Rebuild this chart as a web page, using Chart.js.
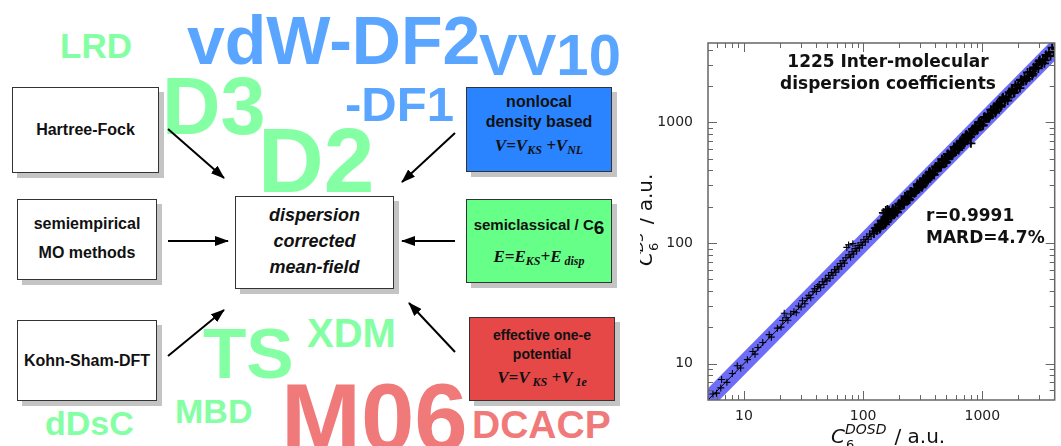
<!DOCTYPE html>
<html>
<head>
<meta charset="utf-8">
<script src="https://cdn.jsdelivr.net/npm/chart.js@4.4.0/dist/chart.umd.min.js"></script>
<style>
html, body { margin: 0; padding: 0; background: #fff; }
body { width: 1061px; height: 446px; position: relative; overflow: hidden; font-family: 'Liberation Sans', Arial, sans-serif; }
.w { position: absolute; font-weight: bold; line-height: 1; white-space: nowrap; }
.g { color: #84ffa3; }
.b { color: #5aa5ff; }
.r { color: #f07a7a; }
.box { position: absolute; box-sizing: border-box; border: 1.5px solid #333; background: #fff; box-shadow: 5px 5px 0 #c4c4c4;
       display: flex; flex-direction: column; justify-content: center; align-items: center; text-align: center;
       font-weight: bold; font-size: 16px; color: #111; }
.box div { white-space: nowrap; }
.f { font-family: 'Liberation Serif', 'Times New Roman', serif; font-style: italic; font-weight: bold; font-size: 17px; white-space: nowrap; }
.f sub { font-size: 12px; position: relative; top: 3px; vertical-align: baseline; }
#chartBox { position: absolute; left: 640px; top: 0; width: 421px; height: 446px; }
</style>
</head>
<body>

<!-- method names in the background -->
<div class="w g" style="left:60px;top:28px;font-size:35px">LRD</div>
<div class="w b" style="left:187px;top:6px;font-size:68px">vdW-DF2</div>
<div class="w b" style="left:479px;top:26px;font-size:58px">VV10</div>
<div class="w g" style="left:162px;top:66px;font-size:81px">D3</div>
<div class="w b" style="left:345px;top:80px;font-size:49px">-DF1</div>
<div class="w g" style="left:258px;top:115px;font-size:91px">D2</div>
<div class="w g" style="left:203px;top:318px;font-size:71px">TS</div>
<div class="w g" style="left:307px;top:313px;font-size:40px">XDM</div>
<div class="w g" style="left:175px;top:394px;font-size:34px">MBD</div>
<div class="w g" style="left:45px;top:406px;font-size:34px">dDsC</div>
<div class="w r" style="left:281px;top:370px;font-size:96px">M06</div>
<div class="w r" style="left:472px;top:405px;font-size:39px">DCACP</div>

<!-- boxes -->
<div class="box" style="left:12px;top:87px;width:147px;height:86px"><div>Hartree-Fock</div></div>
<div class="box" style="left:17px;top:199px;width:140px;height:81px;line-height:29px;padding-bottom:4px"><div>semiempirical</div><div>MO methods</div></div>
<div class="box" style="left:17px;top:320px;width:140px;height:81px"><div>Kohn-Sham-DFT</div></div>
<div class="box" style="left:235px;top:196px;width:159px;height:93px;font-size:18px;font-style:italic;line-height:26px;padding-bottom:3px"><div>dispersion</div><div>corrected</div><div>mean-field</div></div>
<div class="box" style="left:466px;top:87px;width:146px;height:85px;background:#2a84ff;padding-bottom:6px">
  <div style="line-height:20px">nonlocal</div><div style="line-height:20px">density based</div>
  <div class="f" style="line-height:28px">V=V<sub>KS</sub> +V<sub>NL</sub></div>
</div>
<div class="box" style="left:466px;top:199px;width:146px;height:84px;background:#66ff88;font-size:15px">
  <div style="line-height:32px">semiclassical / C<span style="font-size:19px;position:relative;top:4px">6</span></div>
  <div class="f" style="line-height:32px">E=E<sub>KS</sub>+E<sub> disp</sub></div>
</div>
<div class="box" style="left:469px;top:317px;width:146px;height:84px;background:#e64848;font-size:14px">
  <div style="line-height:19px">effective one-e</div><div style="line-height:19px">potential</div>
  <div class="f" style="line-height:28px">V=V<sub> KS</sub> +V<sub> 1e</sub></div>
</div>

<!-- arrows -->
<svg width="1061" height="446" style="position:absolute;left:0;top:0">
  <defs>
    <marker id="ah" markerWidth="14" markerHeight="10" refX="13" refY="5" orient="auto" markerUnits="userSpaceOnUse">
      <path d="M0,0 L14,5 L0,10 z" fill="#000"/>
    </marker>
  </defs>
  <g stroke="#000" stroke-width="2" marker-end="url(#ah)">
    <line x1="168" y1="129" x2="224" y2="178"/>
    <line x1="168" y1="241" x2="228" y2="241"/>
    <line x1="168" y1="356" x2="224" y2="310"/>
    <line x1="455" y1="133" x2="402" y2="182"/>
    <line x1="455" y1="241" x2="402" y2="241"/>
    <line x1="455" y1="352" x2="409" y2="303"/>
  </g>
</svg>

<div id="chartBox"><canvas id="c6Chart" width="421" height="446"></canvas></div>

<script>
// C6 coefficients: reference (DOSD) vs D3
var c6Dosd = [
    5.5, 5.9, 6.4, 6.5, 7.2, 8.0, 8.8, 9.4, 10.7, 11.9, 12.4, 13.1, 14.4, 16.3, 17.0, 19.1, 20.5, 21.2, 21.8, 22.6,
    23.4, 24.7, 26.3, 27.5, 28.8, 30.2, 31.0, 32.5, 33.8, 35.1, 36.4, 38.0, 39.2, 40.5,
    41.6, 42.8, 44.0, 45.5, 46.9, 48.2, 49.7, 51.3, 52.8, 54.2, 55.9, 57.6, 59.0, 60.8, 62.5, 64.3, 66.1, 68.0, 69.8, 71.7,
    73.0, 75.6, 76.2, 78.5, 80.9, 82.1, 83.4, 85.8, 88.2, 90.7, 93.3, 96.0, 98.7, 101.5, 104.4, 107.3, 110.3, 113.4, 116.6,
    119.9, 123.3, 126.8, 130.4,
    134, 138, 142, 146, 150, 154, 158, 163, 168, 173, 178, 183, 188, 194, 200, 206, 212, 218, 225, 232,
    239, 246, 253, 261, 269, 277, 285, 294, 303, 312, 321, 331, 341, 351, 362, 373, 384, 395, 407, 419,
    432, 445, 458, 472, 486, 501, 516, 531, 547, 563, 580, 598, 616, 634, 653, 673, 693, 714, 735, 757,
    780, 803, 827, 852, 878, 904, 931, 959, 988, 1018, 1048, 1080, 1112, 1145, 1180, 1215, 1252, 1289, 1328, 1368,
    1409, 1451, 1495, 1540, 1586, 1633, 1682, 1733, 1785, 1838, 1893, 1950, 2009, 2069, 2131, 2195, 2261, 2329, 2399, 2471,
    2545, 2621, 2700, 2781, 2864, 2950, 3039, 3130, 3224, 3320, 3420, 3523, 3628, 3737, 3850, 3965,
    136, 144, 152, 161, 171, 181, 191, 203, 215, 228, 242, 257, 273, 290, 308, 327, 347, 368, 390, 414,
    439, 466, 494, 524, 556, 590, 626, 664, 704, 747, 792, 840, 891, 945,
    148, 155, 160, 165,
    140, 147, 157, 167, 176, 186, 197, 209, 221, 235, 249, 265, 281, 298, 317, 337, 357, 380, 402, 427,
    452, 480, 509, 540, 573, 607, 644, 683, 724, 768, 815, 864, 917, 973, 1032, 1095, 1162, 1232, 1307, 1387,
    1471, 1561, 1656, 1757, 1864, 1977, 2098, 2226, 2361, 2505, 2658, 2820, 2992, 3174, 3367,
    131, 139, 145, 153, 162, 170, 179, 190, 201, 213, 226, 240, 254, 270, 286, 304, 322, 342, 363, 385,
    409, 434, 461, 489, 519, 551, 585, 621, 659, 699, 742, 788, 836, 887, 942, 1000, 1061, 1126, 1195, 1269,
    1347, 1430
];
var c6D3 = [
    5.6, 5.7, 6.3, 7.4, 7.0, 8.3, 9.6, 9.2, 10.8, 12.6, 12.0, 13.6, 15.0, 17.4, 16.6, 19.7, 20.1, 22.8, 26.2, 24.0,
    22.9, 25.8, 27.0, 26.4, 30.1, 29.5, 33.2, 31.4, 34.9, 36.8, 35.2, 39.5, 41.8, 39.6,
    43.5, 45.2, 42.6, 47.8, 45.3, 50.4, 48.6, 53.9, 51.0, 56.8, 54.1, 60.2, 57.4, 63.5, 61.0, 67.6, 64.2, 71.3, 68.1, 75.5,
    92.0, 96.5, 79.8, 76.4, 84.6, 98.8, 81.1, 89.9, 86.0, 95.1, 91.2, 100.6, 96.1, 106.4, 101.9, 112.6, 107.5, 118.9, 113.7,
    125.6, 120.1, 133.0, 127.2,
    141, 131, 153, 143, 155, 143, 167, 163, 176, 164, 192, 179, 194, 180, 212, 206, 223, 207, 243, 227,
    246, 229, 268, 261, 282, 263, 308, 288, 312, 290, 340, 331, 358, 333, 391, 366, 396, 367, 431, 419,
    454, 423, 495, 463, 501, 466, 547, 531, 574, 535, 626, 586, 634, 590, 692, 673, 728, 678, 794, 742,
    803, 670, 877, 852, 922, 859, 1005, 940, 1018, 947, 1111, 1080, 1168, 1088, 1274, 1191, 1290, 1199, 1408, 1368,
    1479, 1378, 1615, 1509, 1634, 1519, 1783, 1733, 1874, 1746, 2044, 1911, 2069, 1924, 2259, 2195, 2374, 2213, 2591, 2422,
    2621, 2438, 2862, 2781, 3007, 2803, 3282, 3067, 3321, 3088, 3625, 3523, 3809, 3550, 4158, 3886,
    135, 150, 146, 164, 169, 188, 183, 207, 213, 237, 232, 262, 270, 302, 296, 334, 344, 383, 374, 422,
    435, 485, 474, 534, 550, 614, 601, 677, 697, 777, 760, 857, 882, 983,
    178, 186, 190, 185,
    136, 153, 149, 169, 188, 184, 191, 217, 210, 237, 266, 262, 273, 310, 301, 340, 382, 376, 390, 444,
    429, 485, 545, 535, 556, 631, 612, 690, 775, 760, 791, 899, 871, 983, 1104, 1084, 1127, 1281, 1242, 1401,
    1574, 1545, 1606, 1827, 1771, 1997, 2245, 2204, 2290, 2605, 2525, 2848, 3201, 3142, 3266,
    134, 133, 152, 151, 173, 160, 183, 182, 211, 211, 242, 226, 259, 259, 300, 301, 345, 321, 370, 370,
    429, 430, 493, 460, 529, 529, 614, 615, 705, 657, 757, 756, 878, 878, 1008, 940, 1082, 1081, 1255, 1256,
    1441, 1344
];

// ideal y = x line and the shaded agreement band
var refLineX = [4, 5000];
var refLineY = [4, 5000];
var bandX = [4, 5000];
var bandUpper = [5, 6250];
var bandLower = [3.2, 4000];

var xTickVals = [10, 100, 1000];
var yTickVals = [10, 100, 1000];
var decades = [1, 10, 100, 1000];

var plotTitle = ['1225 Inter-molecular', 'dispersion coefficients'];
var statLines = ['r=0.9991', 'MARD=4.7%'];

function pairs(xs, ys) {
    return xs.map(function (x, i) { return { x: x, y: ys[i] }; });
}

// inward tick marks on all four sides plus the frame
var frameTicks = {
    id: 'frameTicks',
    afterDatasetsDraw: function (chart) {
        var ctx = chart.ctx, a = chart.chartArea, xs = chart.scales.x, ys = chart.scales.y;
        ctx.save();
        ctx.strokeStyle = '#666';
        ctx.lineWidth = 1;
        decades.forEach(function (d) {
            for (var k = 1; k <= 9; k++) {
                var v = d * k;
                var len = k === 1 ? 9 : 5;
                if (v > xs.min && v < xs.max) {
                    var px = Math.round(xs.getPixelForValue(v)) + 0.5;
                    ctx.beginPath();
                    ctx.moveTo(px, a.bottom); ctx.lineTo(px, a.bottom - len);
                    ctx.moveTo(px, a.top); ctx.lineTo(px, a.top + len);
                    ctx.stroke();
                }
                if (v > ys.min && v < ys.max) {
                    var py = Math.round(ys.getPixelForValue(v)) + 0.5;
                    ctx.beginPath();
                    ctx.moveTo(a.left, py); ctx.lineTo(a.left + len, py);
                    ctx.moveTo(a.right, py); ctx.lineTo(a.right - len, py);
                    ctx.stroke();
                }
            }
        });
        ctx.lineWidth = 1.5;
        ctx.strokeRect(a.left, a.top, a.right - a.left, a.bottom - a.top);
        ctx.restore();
    }
};

// axis titles with sub/superscripts and the annotations
var labels = {
    id: 'labels',
    afterDraw: function (chart) {
        var ctx = chart.ctx;
        ctx.save();
        ctx.fillStyle = '#111';
        ctx.textBaseline = 'alphabetic';

        ctx.font = 'bold 17px "DejaVu Sans"';
        ctx.textAlign = 'center';
        ctx.fillText(plotTitle[0], 248, 67);
        ctx.fillText(plotTitle[1], 248, 89);
        ctx.textAlign = 'left';
        ctx.fillText(statLines[0], 286, 221);
        ctx.fillText(statLines[1], 286, 243);

        function c6Label(sup) {
            var x = 0;
            ctx.font = 'oblique 20px "DejaVu Sans"';
            ctx.fillText('C', x, 0);
            x += ctx.measureText('C').width;
            ctx.font = '13px "DejaVu Sans"';
            ctx.fillText('6', x + 1, 6);
            ctx.font = 'oblique 14px "DejaVu Sans"';
            ctx.fillText(sup, x, -9);
            x += ctx.measureText(sup).width + 8;
            ctx.font = '20px "DejaVu Sans"';
            ctx.fillText('/ a.u.', x, 0);
        }

        ctx.translate(191, 443);
        c6Label('DOSD');
        ctx.setTransform(1, 0, 0, 1, 0, 0);
        ctx.translate(12, 266);
        ctx.rotate(-Math.PI / 2);
        c6Label('D3');
        ctx.restore();
    }
};

// markers in the crowded upper range are drawn a little heavier
function crowded(c) { return c.raw && c.raw.x > 120; }

var ctx = document.getElementById('c6Chart').getContext('2d');
var c6Chart = new Chart(ctx, {
    type: 'scatter',
    data: {
        datasets: [{
            label: 'C6',
            data: pairs(c6Dosd, c6D3),
            pointStyle: 'cross',
            pointRadius: function (c) { return crowded(c) ? 4.5 : 3.5; },
            borderColor: '#000',
            borderWidth: function (c) { return crowded(c) ? 1.8 : 1.1; },
            order: 1
        }, {
            label: 'y = x',
            data: pairs(refLineX, refLineY),
            showLine: true,
            pointRadius: 0,
            borderColor: '#000',
            borderWidth: 1,
            order: 2
        }, {
            label: 'band upper',
            data: pairs(bandX, bandUpper),
            showLine: true,
            pointRadius: 0,
            borderWidth: 0,
            borderColor: 'rgba(0,0,0,0)',
            order: 3
        }, {
            label: 'band lower',
            data: pairs(bandX, bandLower),
            showLine: true,
            pointRadius: 0,
            borderWidth: 0,
            borderColor: 'rgba(0,0,0,0)',
            backgroundColor: '#6d6df7',
            fill: '-1',
            order: 4
        }]
    },
    options: {
        responsive: false,
        animation: false,
        events: [],
        layout: { padding: { left: 0, right: 2, top: 43, bottom: 0 } },
        plugins: {
            legend: { display: false },
            tooltip: { enabled: false }
        },
        scales: {
            x: {
                type: 'logarithmic',
                min: 5,
                max: 4050,
                grid: { display: false, drawTicks: false },
                border: { display: false },
                ticks: {
                    padding: 8,
                    color: '#222',
                    font: { family: 'DejaVu Sans', size: 14 },
                    maxRotation: 0,
                    autoSkip: false,
                    callback: function (v) { return String(v); }
                },
                afterBuildTicks: function (s) { s.ticks = xTickVals.map(function (v) { return { value: v }; }); },
                afterFit: function (s) { s.height = 46; }
            },
            y: {
                type: 'logarithmic',
                min: 5,
                max: 4550,
                grid: { display: false, drawTicks: false },
                border: { display: false },
                ticks: {
                    padding: 15,
                    color: '#222',
                    font: { family: 'DejaVu Sans', size: 14 },
                    autoSkip: false,
                    callback: function (v) { return String(v); }
                },
                afterBuildTicks: function (s) { s.ticks = yTickVals.map(function (v) { return { value: v }; }); },
                afterFit: function (s) { s.width = 68; }
            }
        }
    },
    plugins: [frameTicks, labels]
});
</script>
</body>
</html>
